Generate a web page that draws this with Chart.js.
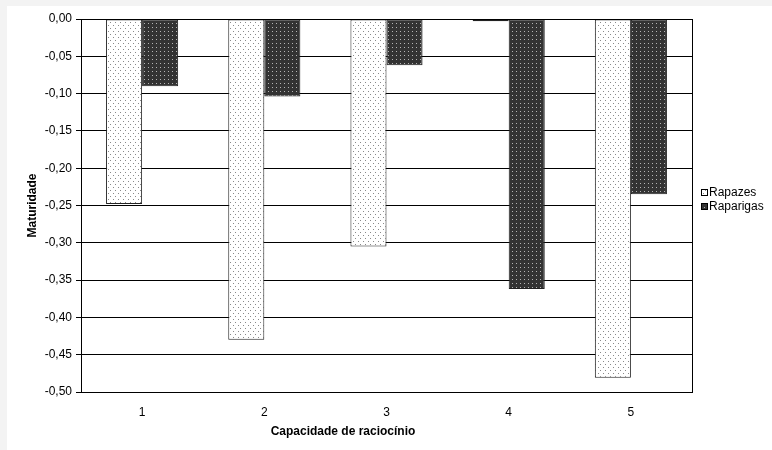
<!DOCTYPE html>
<html>
<head>
<meta charset="utf-8">
<script src="https://cdn.jsdelivr.net/npm/chart.js@4/dist/chart.umd.min.js"></script>
<style>
  body { margin: 0; background: #f3f3f3; width: 772px; height: 450px; overflow: hidden; }
  #grafico { position: absolute; left: 7px; top: 6px; background: #fff; }
</style>
</head>
<body>
<canvas id="grafico" width="765" height="444"></canvas>
<script>
// dados
var categorias = ['1', '2', '3', '4', '5'];
var rapazes = [-0.248, -0.43, -0.305, -0.003, -0.481];
var raparigas = [-0.09, -0.104, -0.062, -0.362, -0.235];
var eixoMin = -0.5;
var eixoMax = 0;
var passo = 0.05;
var tituloX = 'Capacidade de raciocínio';
var tituloY = 'Maturidade';

var fonte = 'Liberation Sans, Arial, sans-serif';

// padrões pontilhados
function padrao(fundo, ponto, w, h, pontos) {
    var c = document.createElement('canvas');
    c.width = w;
    c.height = h;
    var g = c.getContext('2d');
    g.fillStyle = fundo;
    g.fillRect(0, 0, w, h);
    g.fillStyle = ponto;
    pontos.forEach(function (p) {
        g.fillRect(p[0], p[1], 1, 1);
    });
    return g.createPattern(c, 'repeat');
}

var ctx = document.getElementById('grafico').getContext('2d');
var claro = padrao('#ffffff', '#8a8a8a', 5, 6, [[1, 1], [3, 4]]);
var escuro = padrao('#333333', '#b5b5b5', 4, 4, [[1, 1]]);

// moldura da área do gráfico, título do eixo x e legenda
var moldura = {
    id: 'moldura',
    afterDraw: function (chart) {
        var a = chart.chartArea;
        var c = chart.ctx;
        c.save();
        c.strokeStyle = '#000';
        c.lineWidth = 1;
        c.strokeRect(Math.round(a.left) + 0.5, Math.round(a.top) + 0.5,
            Math.round(a.right - a.left), Math.round(a.bottom - a.top));

        // título do eixo x (no Excel fica centrado no gráfico todo)
        c.fillStyle = '#000';
        c.font = 'bold 12px ' + fonte;
        c.textAlign = 'center';
        c.textBaseline = 'middle';
        c.fillText(tituloX, 336, 426);

        c.font = '12px ' + fonte;
        c.textAlign = 'left';
        chart.data.datasets.forEach(function (ds, i) {
            var y = 187 + i * 14;
            c.fillStyle = ds.backgroundColor;
            c.fillRect(694, y - 3, 6, 6);
            c.strokeStyle = '#000';
            c.strokeRect(694.5, y - 3.5, 6, 6);
            c.fillStyle = '#000';
            c.fillText(ds.label, 702, y);
        });
        c.restore();
    }
};

var grafico = new Chart(ctx, {
    type: 'bar',
    data: {
        labels: categorias,
        datasets: [{
            label: 'Rapazes',
            data: rapazes,
            backgroundColor: claro,
            borderColor: '#222',
            borderWidth: 1,
            borderSkipped: false
        }, {
            label: 'Raparigas',
            data: raparigas,
            backgroundColor: escuro,
            borderColor: '#222',
            borderWidth: 1,
            borderSkipped: false
        }]
    },
    options: {
        responsive: false,
        animation: false,
        devicePixelRatio: 1,
        categoryPercentage: 0.59,
        barPercentage: 1,
        layout: { padding: { top: 13, right: 80, left: 0, bottom: 0 } },
        plugins: {
            legend: { display: false },
            tooltip: { enabled: false }
        },
        scales: {
            x: {
                grid: { display: false },
                border: { display: true, color: '#000', width: 1 },
                ticks: { color: '#000', padding: 5, font: { family: fonte, size: 12 } },
                title: { display: false },
                afterFit: function (s) { s.height = 58; }
            },
            y: {
                min: eixoMin,
                max: eixoMax,
                grid: { color: '#000', lineWidth: 1, tickLength: 5, tickColor: '#000' },
                border: { display: true, color: '#000', width: 1 },
                ticks: {
                    stepSize: passo,
                    color: '#000',
                    padding: 4,
                    font: { family: fonte, size: 12 },
                    callback: function (v) { return (Math.abs(v) < 1e-9 ? 0 : v).toFixed(2).replace('.', ','); }
                },
                title: {
                    display: true,
                    text: tituloY,
                    color: '#000',
                    font: { family: fonte, size: 12, weight: 'bold' },
                    padding: { top: 18, bottom: 0 }
                },
                afterFit: function (s) { s.width = 74; }
            }
        }
    },
    plugins: [moldura]
});
</script>
</body>
</html>
